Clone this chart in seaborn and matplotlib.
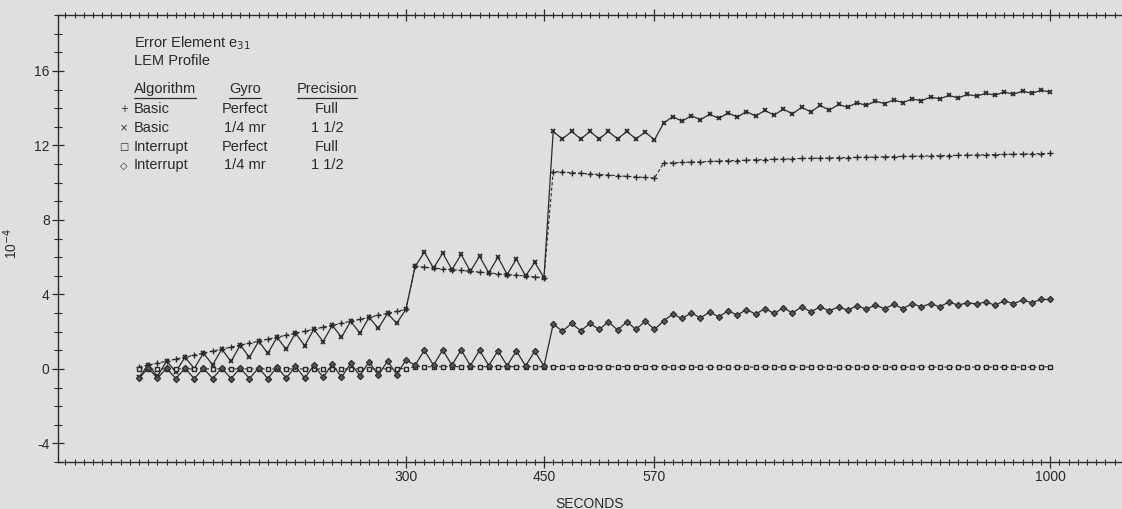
import numpy as np
import seaborn as sns
import matplotlib.pyplot as plt
from matplotlib.ticker import FixedLocator, MultipleLocator

# sample times (seconds), one point every 10 s
seconds = np.arange(10, 1010, 10)

# error element e31, units of 1e-4
basic_perfect = [
    0.10, 0.21, 0.31, 0.42, 0.53, 0.63, 0.74, 0.85, 0.96, 1.06,
    1.17, 1.28, 1.38, 1.49, 1.60, 1.70, 1.81, 1.92, 2.02, 2.13,
    2.24, 2.34, 2.45, 2.56, 2.66, 2.77, 2.88, 2.98, 3.09, 3.20,
    5.50, 5.46, 5.41, 5.37, 5.33, 5.29, 5.24, 5.20, 5.16, 5.11,
    5.07, 5.03, 4.99, 4.94, 4.90, 10.60, 10.57, 10.54, 10.51, 10.47,
    10.44, 10.41, 10.38, 10.34, 10.31, 10.28, 10.25, 11.05, 11.07, 11.09,
    11.11, 11.12, 11.14, 11.16, 11.18, 11.19, 11.21, 11.23, 11.24, 11.26,
    11.27, 11.29, 11.30, 11.31, 11.32, 11.33, 11.34, 11.35, 11.36, 11.37,
    11.38, 11.39, 11.40, 11.41, 11.42, 11.43, 11.44, 11.45, 11.46, 11.47,
    11.48, 11.49, 11.50, 11.51, 11.52, 11.53, 11.54, 11.55, 11.56, 11.57,
]
basic_gyro = [
    -0.45, 0.21, -0.40, 0.42, -0.15, 0.63, 0.02, 0.85, 0.22, 1.06,
    0.40, 1.28, 0.62, 1.49, 0.84, 1.70, 1.05, 1.92, 1.25, 2.13,
    1.47, 2.34, 1.70, 2.56, 1.92, 2.77, 2.18, 2.98, 2.45, 3.20,
    5.50, 6.27, 5.41, 6.22, 5.33, 6.15, 5.24, 6.05, 5.16, 6.00,
    5.07, 5.90, 4.99, 5.72, 4.90, 12.75, 12.35, 12.75, 12.35, 12.75,
    12.35, 12.75, 12.35, 12.75, 12.35, 12.72, 12.30, 13.20, 13.55, 13.30,
    13.60, 13.38, 13.68, 13.45, 13.75, 13.52, 13.82, 13.58, 13.88, 13.63,
    13.95, 13.70, 14.05, 13.80, 14.15, 13.90, 14.20, 14.05, 14.30, 14.15,
    14.38, 14.25, 14.44, 14.30, 14.50, 14.40, 14.60, 14.50, 14.69, 14.55,
    14.74, 14.65, 14.80, 14.70, 14.87, 14.75, 14.92, 14.80, 14.96, 14.87,
]
interrupt_perfect = [
    0.00, 0.00, 0.00, 0.00, 0.00, 0.00, 0.00, 0.00, 0.00, 0.00,
    0.00, 0.00, 0.00, 0.00, 0.00, 0.00, 0.00, 0.00, 0.00, 0.00,
    0.00, 0.00, 0.00, 0.00, 0.00, 0.00, 0.00, 0.00, 0.00, 0.02,
    0.12, 0.12, 0.12, 0.12, 0.12, 0.12, 0.12, 0.12, 0.12, 0.12,
    0.12, 0.12, 0.12, 0.12, 0.12, 0.12, 0.12, 0.12, 0.12, 0.12,
    0.12, 0.12, 0.12, 0.12, 0.12, 0.12, 0.12, 0.10, 0.10, 0.10,
    0.10, 0.10, 0.10, 0.10, 0.10, 0.10, 0.10, 0.10, 0.10, 0.10,
    0.10, 0.10, 0.10, 0.10, 0.10, 0.10, 0.10, 0.10, 0.10, 0.10,
    0.10, 0.10, 0.10, 0.10, 0.10, 0.10, 0.10, 0.10, 0.10, 0.10,
    0.10, 0.10, 0.10, 0.10, 0.10, 0.10, 0.10, 0.10, 0.10, 0.12,
]
interrupt_gyro = [
    -0.50, 0.04, -0.50, 0.04, -0.52, 0.04, -0.52, 0.04, -0.52, 0.05,
    -0.52, 0.05, -0.52, 0.06, -0.52, 0.10, -0.50, 0.15, -0.50, 0.21,
    -0.45, 0.25, -0.45, 0.30, -0.37, 0.39, -0.35, 0.43, -0.30, 0.48,
    0.20, 1.00, 0.20, 1.02, 0.20, 1.02, 0.18, 1.00, 0.18, 0.97,
    0.18, 0.97, 0.16, 0.95, 0.15, 2.41, 2.03, 2.44, 2.05, 2.44,
    2.12, 2.53, 2.09, 2.53, 2.12, 2.57, 2.12, 2.58, 2.94, 2.71,
    3.01, 2.74, 3.05, 2.80, 3.12, 2.89, 3.19, 2.94, 3.24, 2.98,
    3.28, 3.01, 3.33, 3.07, 3.33, 3.12, 3.33, 3.16, 3.39, 3.21,
    3.42, 3.24, 3.46, 3.24, 3.51, 3.33, 3.51, 3.33, 3.60, 3.42,
    3.56, 3.48, 3.60, 3.42, 3.65, 3.51, 3.69, 3.56, 3.73, 3.73,
]

x_ticks = [300, 450, 570, 1000]
x_labels = ["300", "450", "570", "1000"]

legend_rows = [
    ("+", "Basic", "Perfect", "Full"),
    ("\u00d7", "Basic", "1/4 mr", "1 1/2"),
    ("\u25a1", "Interrupt", "Perfect", "Full"),
    ("\u25c7", "Interrupt", "1/4 mr", "1 1/2"),
]

bg = "#dfdfdf"
ink = "#2a2a2a"

sns.set_theme(style="ticks")
plt.rcParams["font.family"] = ["Liberation Sans", "DejaVu Sans"]
plt.rcParams["axes.unicode_minus"] = False

fig = plt.figure(figsize=(11.22, 5.09), dpi=100, facecolor=bg)
ax = fig.add_axes([0.0517, 0.0923, 0.9483, 0.878])
ax.set_facecolor(bg)

dash = (0, (3, 2))
sns.lineplot(x=seconds, y=basic_perfect, ax=ax, color=ink, lw=0.8, linestyle=dash,
             marker="+", markersize=4.5, markeredgewidth=1.0, markeredgecolor=ink)
sns.lineplot(x=seconds, y=basic_gyro, ax=ax, color=ink, lw=0.9,
             marker="x", markersize=3.5, markeredgewidth=1.3, markeredgecolor=ink)
sns.lineplot(x=seconds, y=interrupt_perfect, ax=ax, color=ink, lw=0.8, linestyle=dash,
             marker="s", markersize=3.2, markeredgewidth=1.0, markeredgecolor=ink,
             markerfacecolor=bg)
sns.lineplot(x=seconds, y=interrupt_gyro, ax=ax, color=ink, lw=0.9,
             marker="D", markersize=3.2, markeredgewidth=0.8, markeredgecolor=ink,
             markerfacecolor="#555555")

ax.set_xlim(-78, 1078)
ax.set_ylim(-5, 19)

ax.xaxis.set_major_locator(FixedLocator(x_ticks))
ax.set_xticklabels(x_labels)
ax.xaxis.set_minor_locator(MultipleLocator(10))
ax.yaxis.set_major_locator(MultipleLocator(4))
ax.yaxis.set_minor_locator(MultipleLocator(1))

ax.tick_params(axis="x", which="major", direction="inout", length=9, width=0.9,
               top=True, bottom=True, labelsize=10, colors=ink, pad=1)
ax.tick_params(axis="x", which="minor", direction="inout", length=5, width=0.8,
               top=True, bottom=True, colors=ink)
ax.tick_params(axis="y", which="major", direction="inout", length=8, width=0.9,
               right=False, labelsize=10, colors=ink, pad=2)
ax.tick_params(axis="y", which="minor", direction="inout", length=6, width=0.8,
               right=False, colors=ink)

ax.spines["right"].set_visible(False)
for side in ["left", "top", "bottom"]:
    ax.spines[side].set_color(ink)
    ax.spines[side].set_linewidth(1.0)

ax.set_xlabel("SECONDS", fontsize=10, color=ink)
ax.xaxis.set_label_coords(0.5, -0.078)
ax.set_ylabel("10$^{-4}$", fontsize=10, color=ink)
ax.yaxis.set_label_coords(-0.036, 0.49)

# legend block, written as plain text in axes fraction
tx = ax.transAxes
ax.text(0.0714, 0.937, "Error Element e$_{31}$", transform=tx, fontsize=10.5,
        color=ink, va="center", ha="left")
ax.text(0.0714, 0.897, "LEM Profile", transform=tx, fontsize=10.5,
        color=ink, va="center", ha="left")

headers = [
    ax.text(0.0714, 0.834, "Algorithm", transform=tx, fontsize=10.5, color=ink,
            va="center", ha="left"),
    ax.text(0.1758, 0.834, "Gyro", transform=tx, fontsize=10.5, color=ink,
            va="center", ha="center"),
    ax.text(0.2528, 0.834, "Precision", transform=tx, fontsize=10.5, color=ink,
            va="center", ha="center"),
]

row_y = [0.790, 0.747, 0.705, 0.664]
for (sym, algo, gyro, prec), y in zip(legend_rows, row_y):
    ax.text(0.062, y, sym, transform=tx, fontsize=7, color=ink, va="center",
            ha="center", family=["DejaVu Sans"])
    ax.text(0.0714, y, algo, transform=tx, fontsize=10.5, color=ink,
            va="center", ha="left")
    ax.text(0.1758, y, gyro, transform=tx, fontsize=10.5, color=ink,
            va="center", ha="center")
    ax.text(0.2528, y, prec, transform=tx, fontsize=10.5, color=ink,
            va="center", ha="center")

# underline the column headers
fig.canvas.draw()
renderer = fig.canvas.get_renderer()
for h in headers:
    bb = h.get_window_extent(renderer).transformed(tx.inverted())
    ax.plot([bb.x0, bb.x1], [bb.y0 - 0.004, bb.y0 - 0.004], transform=tx,
            color=ink, lw=0.9, clip_on=False)

fig.savefig("out.png", dpi=100, facecolor=bg)
